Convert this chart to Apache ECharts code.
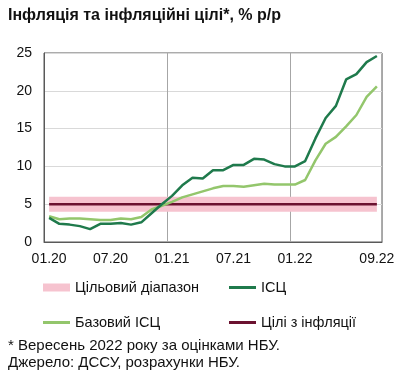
<!DOCTYPE html>
<html><head><meta charset="utf-8">
<script src="https://cdn.jsdelivr.net/npm/echarts@6/dist/echarts.min.js"></script>
<style>html,body{margin:0;padding:0;background:#fff}#c{width:403px;height:382px}</style>
</head><body><div id="c"></div>
<script>
const months = ['01.20','02.20','03.20','04.20','05.20','06.20','07.20','08.20','09.20','10.20','11.20','12.20',
'01.21','02.21','03.21','04.21','05.21','06.21','07.21','08.21','09.21','10.21','11.21','12.21',
'01.22','02.22','03.22','04.22','05.22','06.22','07.22','08.22','09.22'];
const xTickLabels = ['01.20','07.20','01.21','07.21','01.22','09.22'];
const xGridMonths = ['01.21','01.22'];
const cpi = [3.2,2.4,2.3,2.1,1.7,2.4,2.4,2.5,2.3,2.6,3.8,5.0,
6.1,7.5,8.5,8.4,9.5,9.5,10.2,10.2,11.0,10.9,10.3,10.0,
10.0,10.7,13.7,16.4,18.0,21.5,22.2,23.8,24.6];
const core = [3.4,3.0,3.1,3.1,3.0,2.9,2.9,3.1,3.0,3.3,4.3,4.8,
5.3,5.9,6.3,6.7,7.1,7.4,7.4,7.3,7.5,7.7,7.6,7.6,
7.6,8.2,10.8,13.0,13.9,15.3,16.8,19.2,20.6];
const targetValue = 5;
const bandLow = 4;
const bandHigh = 6;
const yTicks = [0,5,10,15,20,25];

const targetData = months.map(() => targetValue);
const bandBase = months.map(() => bandLow);
const bandWidth = months.map(() => bandHigh - bandLow);

const FONT = 'Liberation Sans, Arial, sans-serif';
const TXT = '#111';
const C_BAND = '#f6c3cf', C_CPI = '#1f7a4c', C_CORE = '#93c66c', C_TGT = '#6b1230';

const chart = echarts.init(document.getElementById('c'), null, {renderer:'canvas'});
function leg(name, left, top, h) {
  return {data:[{name, icon:'rect'}], left, top, itemWidth:27, itemHeight:h, padding:0,
    textStyle:{fontFamily:FONT, fontSize:14.5, color:TXT}, selectedMode:false};
}
chart.setOption({
  animation:false,
  textStyle:{fontFamily:FONT},
  grid:{left:44, right:21, top:53, bottom:140, show:true, borderColor:'#595959', borderWidth:1},
  xAxis:{type:'category', data:months, boundaryGap:true,
    axisLine:{lineStyle:{color:'#595959'}},
    axisTick:{length:4, lineStyle:{color:'#595959'}, interval:(i,v)=>i%12===0},
    axisLabel:{interval:(i,v)=>xTickLabels.includes(v), color:TXT, fontSize:14, fontFamily:FONT, margin:10},
    splitLine:{show:true, interval:(i,v)=>xGridMonths.includes(v), lineStyle:{color:'#a6a6a6', width:1}}
  },
  yAxis:{type:'value', min:yTicks[0], max:yTicks[yTicks.length-1], interval:5,
    axisLine:{show:true, lineStyle:{color:'#595959'}},
    axisTick:{show:false},
    axisLabel:{color:TXT, fontSize:14, fontFamily:FONT, margin:12},
    splitLine:{lineStyle:{color:'#d9d9d9'}}
  },
  legend:[
    leg('Цільовий діапазон', 43, 280, 8),
    leg('ІСЦ', 229, 280, 3),
    leg('Базовий ІСЦ', 43, 315, 3),
    leg('Цілі з інфляції', 229, 315, 3)
  ],
  graphic:[
    {type:'text', left:8, top:8, style:{text:'Інфляція та інфляційні цілі*, % р/р', font:'bold 16px '+FONT, fill:TXT}},
    {type:'text', left:8, top:338, style:{text:'* Вересень 2022 року за оцінками НБУ.', font:'15px '+FONT, fill:TXT}},
    {type:'text', left:8, top:355, style:{text:'Джерело: ДССУ, розрахунки НБУ.', font:'15px '+FONT, fill:TXT}}
  ],
  series:[
    {name:'base', type:'line', stack:'band', data:bandBase, symbol:'none', lineStyle:{width:0, opacity:0}, silent:true},
    {name:'Цільовий діапазон', type:'line', stack:'band', data:bandWidth, symbol:'none',
      itemStyle:{color:C_BAND}, lineStyle:{width:0, opacity:0}, areaStyle:{color:C_BAND, opacity:1}, silent:true},
    {name:'Цілі з інфляції', type:'line', data:targetData, symbol:'none', itemStyle:{color:C_TGT}, lineStyle:{color:C_TGT, width:2.5}},
    {name:'Базовий ІСЦ', type:'line', data:core, symbol:'none', itemStyle:{color:C_CORE}, lineStyle:{color:C_CORE, width:2.5}},
    {name:'ІСЦ', type:'line', data:cpi, symbol:'none', itemStyle:{color:C_CPI}, lineStyle:{color:C_CPI, width:2.5}}
  ]
});
</script></body></html>
